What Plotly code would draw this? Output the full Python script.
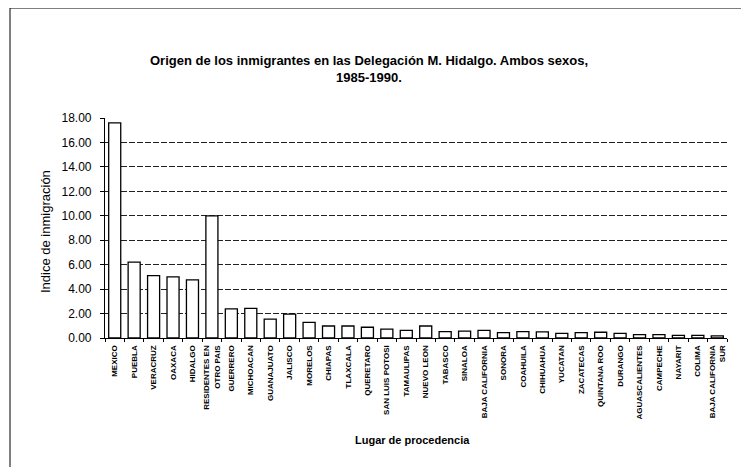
import plotly.graph_objects as go

categories = [
    "MEXICO", "PUEBLA", "VERACRUZ", "OAXACA", "HIDALGO", "RESIDENTES EN<br>OTRO PAIS",
    "GUERRERO", "MICHOACAN", "GUANAJUATO", "JALISCO", "MORELOS", "CHIAPAS",
    "TLAXCALA", "QUERETARO", "SAN LUIS POTOSI", "TAMAULIPAS", "NUEVO LEON",
    "TABASCO", "SINALOA", "BAJA CALIFORNIA", "SONORA", "COAHUILA", "CHIHUAHUA",
    "YUCATAN", "ZACATECAS", "QUINTANA ROO", "DURANGO", "AGUASCALIENTES",
    "CAMPECHE", "NAYARIT", "COLIMA", "BAJA CALIFORNIA<br>SUR",
]
values = [
    17.60, 6.20, 5.10, 5.00, 4.75, 10.00,
    2.38, 2.42, 1.55, 1.95, 1.28, 0.98,
    0.98, 0.88, 0.72, 0.63, 0.98,
    0.52, 0.57, 0.63, 0.44, 0.52, 0.50,
    0.38, 0.44, 0.47, 0.38, 0.27,
    0.27, 0.22, 0.22, 0.18,
]
y_ticks = [0, 2, 4, 6, 8, 10, 12, 14, 16, 18]

title_text = "Origen de los inmigrantes en las Delegación M. Hidalgo. Ambos sexos,<br>1985-1990."
x_title = "Lugar de procedencia"
y_title = "Indice de inmigración"

font_family = "Liberation Sans, Arial, sans-serif"

# the page body has an 8px margin; the figure is sized to fill the remaining window
OFF = 8
W, H = 749 - OFF, 467 - OFF
PL, PT, PW, PH = 105, 118, 622, 220  # plot area in window pixels


def px_x(x):
    return (x - PL) / PW


def px_y(y):
    return (PT + PH - y) / PH


fig = go.Figure(go.Bar(
    x=categories, y=values,
    marker=dict(color="white", line=dict(color="black", width=1.3)),
    width=0.62,
))

fig.update_layout(
    width=W, height=H,
    margin=dict(l=PL - OFF, r=749 - PL - PW, t=PT - OFF, b=467 - PT - PH),
    paper_bgcolor="white", plot_bgcolor="white",
    showlegend=False,
    font=dict(family=font_family, color="black"),
    title=dict(
        text="<b>" + title_text + "</b>",
        x=(369 - OFF) / W, xanchor="center", xref="container",
        y=1 - (65 - OFF) / H, yanchor="top", yref="container",
        font=dict(size=13, family=font_family, color="black"),
    ),
)

fig.update_yaxes(
    range=[0, 18], tickvals=y_ticks, tickformat=".2f",
    showgrid=True, gridcolor="#222", gridwidth=1, griddash="6px,2px",
    showline=True, linecolor="black", linewidth=1.2,
    ticks="outside", ticklen=4, tickcolor="black",
    ticklabelstandoff=6,
    tickfont=dict(size=12, family=font_family, color="black"),
    zeroline=False,
)
fig.update_xaxes(
    tickangle=-90, tickson="boundaries",
    showline=True, linecolor="black", linewidth=1.2,
    ticks="outside", ticklen=3, tickcolor="black",
    ticklabelstandoff=3,
    tickfont=dict(size=8, family=font_family, color="black", weight="bold"),
    showgrid=False,
)

fig.add_annotation(
    text="<b>" + x_title + "</b>", xref="paper", yref="paper",
    x=px_x(412), y=px_y(440), xanchor="center", yanchor="middle",
    showarrow=False, font=dict(size=11, family=font_family, color="black"),
)
fig.add_annotation(
    text=y_title, xref="paper", yref="paper",
    x=px_x(45), y=px_y(232), xanchor="center", yanchor="middle",
    textangle=-90, showarrow=False,
    font=dict(size=13, family=font_family, color="black"),
)

# scanned frame: left and top border lines
fig.add_shape(type="line", xref="paper", yref="paper",
              x0=px_x(10), x1=px_x(10), y0=px_y(480), y1=px_y(8),
              line=dict(color="black", width=1))
fig.add_shape(type="line", xref="paper", yref="paper",
              x0=px_x(10), x1=px_x(760), y0=px_y(8), y1=px_y(8),
              line=dict(color="black", width=1))

fig.write_html("out.html")
